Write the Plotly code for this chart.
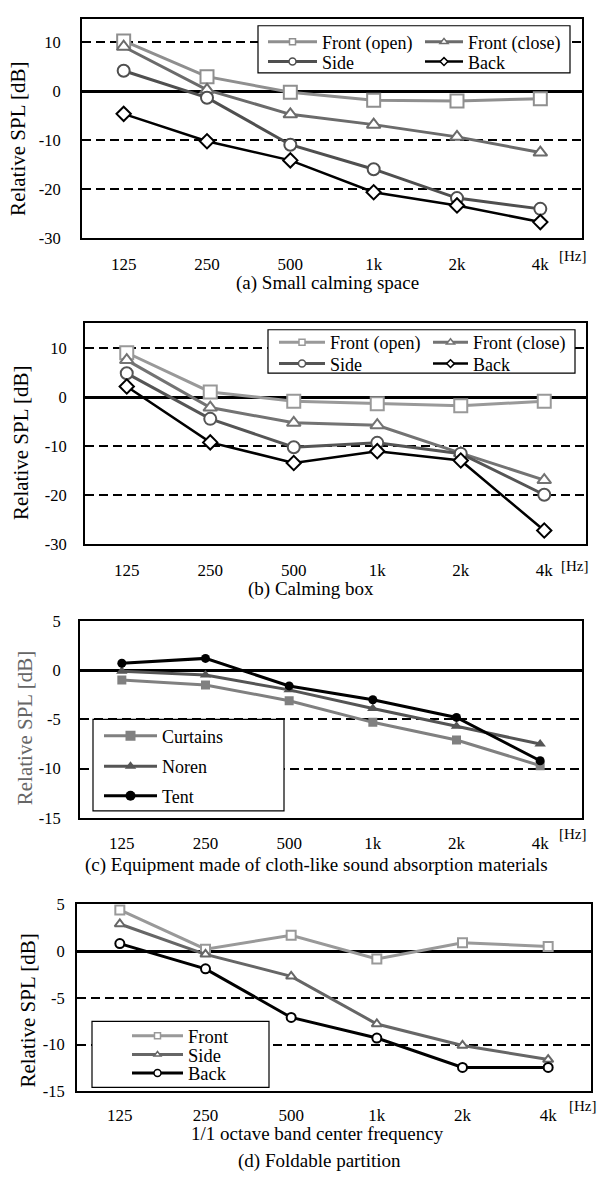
import plotly.graph_objects as go

W, H = 597, 1181
FONT = "Liberation Serif, Times New Roman, Times, serif"

# ---------------- data ----------------
freq = ["125", "250", "500", "1k", "2k", "4k"]

# y tick values / labels
ab_yticks = [-30, -20, -10, 0, 10]
ab_yticktext = ["-30", "-20", "-10", "0", "10"]
cd_yticks = [-15, -10, -5, 0, 5]
cd_yticktext = ["-15", "-10", "-5", "0", "5"]

# (a) Small calming space
a_front_open = [10.3, 3.0, -0.2, -1.8, -2.0, -1.5]
a_front_close = [9.1, 0.3, -4.7, -6.8, -9.3, -12.5]
a_side = [4.2, -1.3, -10.9, -15.9, -21.8, -24.0]
a_back = [-4.6, -10.2, -14.1, -20.6, -23.3, -26.7]

# (b) Calming box
b_front_open = [9.1, 1.1, -0.8, -1.3, -1.7, -0.8]
b_front_close = [7.6, -2.1, -5.2, -5.7, -11.4, -16.9]
b_side = [4.9, -4.4, -10.2, -9.3, -11.5, -19.9]
b_back = [2.2, -9.2, -13.4, -11.0, -12.9, -27.2]

# (c) Equipment made of cloth-like sound absorption materials
c_curtains = [-1.0, -1.5, -3.1, -5.3, -7.1, -9.7]
c_noren = [-0.1, -0.5, -2.0, -3.9, -5.7, -7.5]
c_tent = [0.7, 1.2, -1.6, -3.0, -4.8, -9.2]

# (d) Foldable partition
d_front = [4.4, 0.2, 1.7, -0.85, 0.9, 0.5]
d_side = [2.9, -0.35, -2.7, -7.8, -10.1, -11.6]
d_back = [0.8, -1.9, -7.1, -9.3, -12.45, -12.45]

panel_titles = ["(a) Small calming space", "(b) Calming box",
                "(c) Equipment made of cloth-like sound absorption materials",
                "(d) Foldable partition"]
x_title_d = "1/1 octave band center frequency"
y_title = "Relative SPL [dB]"
unit = "[Hz]"


def fx(p):
    return p / W


def fy(p):
    return 1 - p / H


# series: name, values, color, symbol, size, fill, line width, legend marker size
panels = [
    dict(box=(82, 582, 10, 233), yr=[-30, 14.8], yt=ab_yticks, ytt=ab_yticktext,
         xtl=9, ytl=16,
         series=[("Front (open)", a_front_open, "#8f8f8f", "square", 13, "white", 3, 6),
                 ("Front (close)", a_front_close, "#6b6b6b", "triangle-up", 12, "white", 3, 7),
                 ("Side", a_side, "#4f4f4f", "circle", 12, "white", 3, 7),
                 ("Back", a_back, "#000000", "diamond", 11, "white", 2.5, 6)],
         legends=[(263, 49, 33.7), (420, 38, 33.7), (263, 49, 53.7), (420, 38, 53.7)],
         legbox=(258, 570, 17, 65), legfont=18),
    dict(box=(85, 586, 319, 544), yr=[-30, 15.2], yt=ab_yticks, ytt=ab_yticktext,
         xtl=9, ytl=13,
         series=[("Front (open)", b_front_open, "#999999", "square", 13, "white", 3, 6),
                 ("Front (close)", b_front_close, "#737373", "triangle-up", 12, "white", 3, 7),
                 ("Side", b_side, "#555555", "circle", 12, "white", 3, 7),
                 ("Back", b_back, "#000000", "diamond", 11, "white", 2.5, 6)],
         legends=[(274, 46, 339), (428, 35, 339), (274, 46, 360.7), (428, 35, 360.7)],
         legbox=(268, 575, 326, 370), legfont=18),
    dict(box=(80, 582, 622, 822), yr=[-15, 5], yt=cd_yticks, ytt=cd_yticktext,
         xtl=9, ytl=14,
         series=[("Curtains", c_curtains, "#808080", "square", 9, None, 3, 10),
                 ("Noren", c_noren, "#555555", "triangle-up", 10, None, 3, 10),
                 ("Tent", c_tent, "#000000", "circle", 9, None, 3, 10)],
         legends=[(99, 53, 739), (99, 53, 770), (99, 53, 800)],
         legbox=(93, 284, 722, 815), legfont=18),
    dict(box=(77, 591, 910, 1100), yr=[-15, 5], yt=cd_yticks, ytt=cd_yticktext,
         xtl=7, ytl=7,
         series=[("Front", d_front, "#999999", "square", 9, "white", 3, 6),
                 ("Side", d_side, "#666666", "triangle-up", 9, "white", 3, 6),
                 ("Back", d_back, "#000000", "circle", 9, "white", 3, 7)],
         legends=[(127, 51, 1044), (127, 51, 1063), (127, 51, 1082)],
         legbox=(92, 269, 1029, 1096), legfont=18.5),
]

fig = go.Figure()
layout = {}
shapes = []
leg_count = 0

for i, p in enumerate(panels):
    n = "" if i == 0 else str(i + 1)
    xa, ya = "x" + n, "y" + n
    x0, x1, y0, y1 = p["box"]
    layout["xaxis" + n] = dict(
        domain=[fx(x0), fx(x1)], anchor=ya, type="category",
        categoryorder="array", categoryarray=freq, range=[-0.5, 5.5],
        showline=True, mirror=True, linecolor="black", linewidth=2,
        showgrid=False, zeroline=False, ticks="outside", ticklen=p["xtl"],
        tickcolor="rgba(0,0,0,0)", fixedrange=True,
        tickfont=dict(family=FONT, size=17, color="black"))
    layout["yaxis" + n] = dict(
        domain=[fy(y1), fy(y0)], anchor=xa, range=p["yr"],
        tickmode="array", tickvals=p["yt"], ticktext=p["ytt"],
        showline=True, mirror=True, linecolor="black", linewidth=2,
        showgrid=True, gridcolor="black", gridwidth=2, griddash="9px,5px",
        zeroline=True, zerolinecolor="black", zerolinewidth=2.5,
        ticks="outside", ticklen=p["ytl"], tickcolor="rgba(0,0,0,0)",
        fixedrange=True, tickfont=dict(family=FONT, size=16.5, color="black"))

    for (name, vals, col, sym, size, fill, lw, lsize), (lx, iw, cy) in zip(p["series"], p["legends"]):
        mfill = fill if fill else col
        fig.add_trace(go.Scatter(
            x=freq, y=vals, mode="lines+markers", name=name, showlegend=False,
            xaxis=xa, yaxis=ya, line=dict(color=col, width=lw),
            marker=dict(symbol=sym, size=size, color=mfill,
                        line=dict(color=col, width=2 if fill else 0)),
            hoverinfo="skip"))
        leg_count += 1
        lname = "legend" if leg_count == 1 else "legend%d" % leg_count
        fig.add_trace(go.Scatter(
            x=[None], y=[None], mode="lines+markers", name=name, showlegend=True,
            legend=lname, xaxis=xa, yaxis=ya, line=dict(color=col, width=lw),
            marker=dict(symbol=sym, size=lsize, color=mfill,
                        line=dict(color=col, width=1.5 if fill else 0)),
            hoverinfo="skip"))
        layout[lname] = dict(
            x=fx(lx), y=fy(cy), xanchor="left", yanchor="middle",
            bgcolor="rgba(0,0,0,0)", borderwidth=0, orientation="v",
            itemwidth=iw, itemclick=False, itemdoubleclick=False,
            font=dict(family=FONT, size=p["legfont"], color="black"))

    bx0, bx1, by0, by1 = p["legbox"]
    shapes.append(dict(type="rect", xref="paper", yref="paper",
                       x0=fx(bx0), x1=fx(bx1), y0=fy(by1), y1=fy(by0),
                       fillcolor="white", line=dict(color="black", width=1.2),
                       layer="above"))

annotations = []
# panel titles and x title
for text, x, y, fs in [(panel_titles[0], 327, 278.5, 19), (panel_titles[1], 311, 589.5, 19),
                       (panel_titles[2], 316, 869.5, 19), (x_title_d, 317, 1142.5, 19),
                       (panel_titles[3], 319, 1170.5, 19)]:
    annotations.append(dict(text=text, x=fx(x), y=fy(y), xref="paper", yref="paper",
                            xanchor="center", yanchor="middle", showarrow=False,
                            font=dict(family=FONT, size=fs, color="black")))
# y titles
for x, y, col in [(18, 132, "black"), (21, 441, "black"), (25, 731, "#666666"), (28, 1018, "black")]:
    annotations.append(dict(text=y_title, x=fx(x), y=fy(y), xref="paper", yref="paper",
                            xanchor="center", yanchor="middle", showarrow=False,
                            textangle=-90, font=dict(family=FONT, size=21, color=col)))
# unit labels
for x, y in [(557, 251), (559, 566), (557, 838), (567, 1115)]:
    annotations.append(dict(text=unit, x=fx(x), y=fy(y), xref="paper", yref="paper",
                            xanchor="left", yanchor="middle", showarrow=False,
                            font=dict(family=FONT, size=15, color="black")))

layout.update(dict(width=W, height=H, margin=dict(l=0, r=0, t=0, b=0),
                   paper_bgcolor="white", plot_bgcolor="white",
                   shapes=shapes, annotations=annotations, hovermode=False))
fig.update_layout(layout)
fig.write_html(
    "out.html", config={"displayModeBar": False},
    post_script="document.body.style.margin='0px';"
                "document.body.style.overflow='hidden';"
                "document.documentElement.style.overflow='hidden';")
